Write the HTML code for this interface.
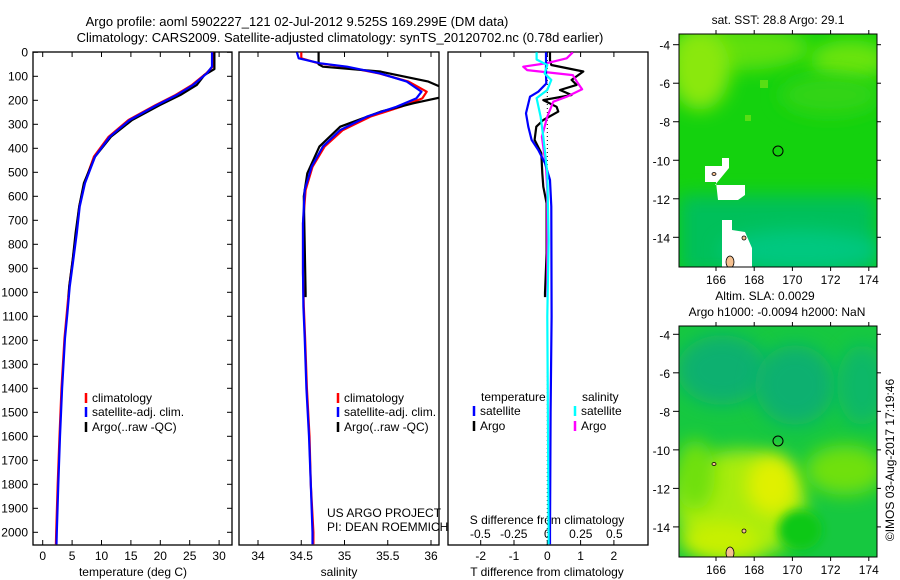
<!DOCTYPE html>
<html><head><meta charset="utf-8"><style>
html,body{margin:0;padding:0;background:#fff;}
svg{display:block;font-family:"Liberation Sans",sans-serif;}
text{font-size:12px;fill:#000;}
</style></head><body>
<svg id="chart" width="900" height="580" viewBox="0 0 900 580" xmlns="http://www.w3.org/2000/svg">
<defs>
<filter id="blur8" x="-50%" y="-50%" width="200%" height="200%"><feGaussianBlur stdDeviation="9"/></filter>
<filter id="blur4" x="-50%" y="-50%" width="200%" height="200%"><feGaussianBlur stdDeviation="5"/></filter>
<clipPath id="clipTop"><rect x="679" y="34" width="198" height="233"/></clipPath>
<clipPath id="clipBot"><rect x="679" y="326" width="198" height="231"/></clipPath>
<clipPath id="clipP1"><rect x="33" y="52" width="199" height="493"/></clipPath>
<clipPath id="clipP2"><rect x="239" y="52" width="200" height="493"/></clipPath>
<clipPath id="clipP3"><rect x="448" y="52" width="200" height="493"/></clipPath>
</defs>
<text x="297" y="26" text-anchor="middle" style="font-size:13px">Argo profile: aoml 5902227_121 02-Jul-2012 9.525S 169.299E (DM data)</text>
<text x="340" y="42" text-anchor="middle" style="font-size:13px">Climatology: CARS2009. Satellite-adjusted climatology: synTS_20120702.nc (0.78d earlier)</text>

<g>
<text x="778" y="24" text-anchor="middle">sat. SST: 28.8 Argo: 29.1</text>
<g clip-path="url(#clipTop)">
<rect x="679" y="34" width="198" height="233" fill="#14d20e"/>
<ellipse cx="740" cy="48" rx="70" ry="22" fill="#5ee010" filter="url(#blur8)"/>
<ellipse cx="700" cy="70" rx="30" ry="40" fill="#8ae80a" filter="url(#blur8)"/>
<ellipse cx="850" cy="60" rx="40" ry="20" fill="#6ae410" filter="url(#blur8)"/>
<ellipse cx="830" cy="95" rx="50" ry="20" fill="#30d418" filter="url(#blur8)"/>
<rect x="679" y="195" width="198" height="80" fill="#06c05a" filter="url(#blur8)"/>
<ellipse cx="800" cy="250" rx="80" ry="20" fill="#04c880" filter="url(#blur8)"/>
<rect x="760" y="80" width="8" height="8" fill="#58de14"/>
<rect x="745" y="115" width="6" height="6" fill="#58de14"/>
<polygon points="705,166 722,166 722,158 729,158 729,168 715,185 745,185 745,195 738,200 718,200 716,182 705,182" fill="#fff"/>
<polygon points="722,220 732,220 732,230 745,232 752,248 752,267 722,267 722,250" fill="#fff"/>
<ellipse cx="730" cy="262" rx="4" ry="6" fill="#f5c090" stroke="#000" stroke-width="0.8"/>
<ellipse cx="744" cy="238" rx="2" ry="2" fill="#f5c090" stroke="#000" stroke-width="0.8"/>
<ellipse cx="714" cy="174" rx="2" ry="1.5" fill="#f5c090" stroke="#000" stroke-width="0.8"/>
</g>
<rect x="679" y="34" width="198" height="233" fill="none" stroke="#000"/>
<circle cx="778" cy="151" r="5" fill="none" stroke="#000"/>
</g>

<g>
<text x="765" y="300" text-anchor="middle">Altim. SLA: 0.0029</text>
<text x="777" y="316" text-anchor="middle">Argo h1000: -0.0094 h2000: NaN</text>
<g clip-path="url(#clipBot)">
<rect x="679" y="326" width="198" height="231" fill="#16c840"/>
<ellipse cx="722" cy="370" rx="45" ry="35" fill="#08b070" filter="url(#blur8)"/>
<ellipse cx="795" cy="385" rx="40" ry="40" fill="#08b070" filter="url(#blur8)"/>
<ellipse cx="862" cy="385" rx="25" ry="40" fill="#10b868" filter="url(#blur8)"/>
<ellipse cx="740" cy="505" rx="65" ry="55" fill="#a8ec08" filter="url(#blur8)"/>
<ellipse cx="695" cy="475" rx="20" ry="35" fill="#70e010" filter="url(#blur8)"/>
<ellipse cx="772" cy="485" rx="25" ry="30" fill="#e0f000" filter="url(#blur8)"/>
<ellipse cx="720" cy="540" rx="40" ry="18" fill="#c8f000" filter="url(#blur8)"/>
<ellipse cx="845" cy="470" rx="40" ry="25" fill="#70e010" filter="url(#blur8)"/>
<ellipse cx="800" cy="530" rx="22" ry="20" fill="#10c818" filter="url(#blur4)"/>
<ellipse cx="730" cy="553" rx="4" ry="6" fill="#f5c090" stroke="#000" stroke-width="0.8"/>
<ellipse cx="744" cy="531" rx="2" ry="2" fill="#f5c090" stroke="#000" stroke-width="0.8"/>
<ellipse cx="714" cy="464" rx="2" ry="1.5" fill="#f5c090" stroke="#000" stroke-width="0.8"/>
</g>
<rect x="679" y="326" width="198" height="231" fill="none" stroke="#000"/>
<circle cx="778" cy="441" r="5" fill="none" stroke="#000"/>
</g>
<text transform="translate(894,460) rotate(-90)" text-anchor="middle">©IMOS 03-Aug-2017 17:19:46</text>
<g id="plots"></g>
</svg>
<script>
const depthTicks = [0,100,200,300,400,500,600,700,800,900,1000,1100,1200,1300,1400,1500,1600,1700,1800,1900,2000];
const tempTicks = [0,5,10,15,20,25,30];
const salTicks = [34,34.5,35,35.5,36];
const salTickLabels = ["34","34.5","35","35.5","36"];
const tdiffTicks = [-2,-1,0,1,2];
const sdiffTicks = [-0.5,-0.25,0,0.25,0.5];
const sdiffTickLabels = ["-0.5","-0.25","0","0.25","0.5"];

const tDepth = [0,60,88,136,178,220,282,352,435,545,643,753,865,977,1087,1191,1400,1600,1800,2000,2050];
const tSat = [28.8,28.8,27.9,25.6,22.8,19.4,14.8,11.4,8.9,7.2,6.3,5.8,5.2,4.6,4.2,3.8,3.3,2.95,2.65,2.4,2.35];
const tClim = [28.9,28.9,27.8,25.4,22.6,19.2,14.6,11.2,8.7,7.1,6.2,5.7,5.1,4.5,4.1,3.7,3.2,2.85,2.55,2.3,2.25];
const tArgoDepth = [0,70,95,136,178,220,282,352,435,545,643,753,865,977,1020];
const tArgo = [29.2,29.2,27.5,26.2,23.4,19.9,15.2,11.6,8.9,7.0,6.2,5.6,5.1,4.5,4.4];

const sDepth = [0,25,46,60,88,122,164,192,227,268,324,393,477,574,712,920,1060,1190,1400,1600,1800,2000,2050];
const sSat = [34.45,34.47,34.72,35.03,35.41,35.72,35.89,35.83,35.6,35.26,34.95,34.75,34.62,34.54,34.52,34.52,34.525,34.54,34.56,34.59,34.61,34.63,34.63];
const sClim = [34.5,34.5,34.7,35.0,35.4,35.74,35.95,35.9,35.65,35.3,34.98,34.77,34.63,34.55,34.52,34.52,34.53,34.545,34.565,34.595,34.61,34.64,34.64];
const sArgoDepth = [0,50,60,80,122,150,185,212,247,310,393,504,600,1003,1020];
const sArgo = [34.70,34.70,34.75,35.41,35.97,36.15,36.15,35.8,35.42,34.95,34.71,34.57,34.53,34.55,34.55];

const dtSatDepth = [0,88,130,164,185,254,310,365,407,462,532,643,1101,1500,2000,2050];
const dtSat = [-0.04,-0.04,-0.03,-0.27,-0.52,-0.64,-0.57,-0.47,-0.27,-0.07,0.08,0.12,0.13,0.1,0.08,0.08];
const dtArgoDepth = [0,32,53,80,115,136,157,178,199,227,247,282,310,365,420,504,560,629,837,1003,1020];
const dtArgo = [0.08,0.08,0.12,1.08,0.73,0.88,0.38,0.73,-0.12,0.28,0.33,-0.12,-0.33,-0.38,-0.18,-0.15,-0.12,-0.02,-0.02,-0.07,-0.07];
const dsArgoDepth = [0,25,45,60,74,95,122,154,185,206,268,352,477,574,1020];
const dsArgo = [0.19,0.145,0,-0.18,-0.15,0.19,0.22,0.26,0.145,0.045,0,-0.04,-0.01,0,0];
const dsSatDepth = [0,30,53,88,115,157,191,268,352,504,782,1101,2000,2050];
const dsSat = [-0.08,-0.08,0,-0.02,0.03,0,-0.08,-0.05,-0.03,0,0.01,0,0.01,0.01];

const NS = "http://www.w3.org/2000/svg";
const yD = d => 52.3 + d * 0.24;
const xT = t => 42.7 + t * 5.88;
const xS = s => 258 + (s - 34) * 86.5;
const xDT = v => 547.3 + v * 33.3;
const xDS = v => 547.3 + v * 134;
const root = document.getElementById('plots');
function mk(tag, attrs, parent){
  const e = document.createElementNS(NS, tag);
  for (const k in attrs) e.setAttribute(k, attrs[k]);
  (parent || root).appendChild(e);
  return e;
}
function txt(x, y, s, anchor, parent){
  const t = mk('text', {x: x, y: y, 'text-anchor': anchor || 'start'}, parent);
  t.textContent = s;
  return t;
}
function line(xf, vals, depths, color, clip, name){
  const pts = vals.map((v, i) => xf(v).toFixed(1) + ',' + yD(depths[i]).toFixed(1)).join(' ');
  const p = mk('polyline', {points: pts, fill: 'none', stroke: color, 'stroke-width': 2.2, 'stroke-linejoin': 'round', 'clip-path': 'url(#' + clip + ')'});
  
  
}
function panel(x0, x1, name){
  const r = mk('rect', {x: x0, y: 52, width: x1 - x0, height: 493, fill: 'none', stroke: '#000', 'stroke-width': 1.3});
  
  
}
function xticks(xf, ticks, labels){
  ticks.forEach((t, i) => {
    const x = xf(t);
    mk('line', {x1: x, x2: x, y1: 52, y2: 57, stroke: '#000'});
    mk('line', {x1: x, x2: x, y1: 545, y2: 540, stroke: '#000'});
    const lb = txt(x, 560, labels[i], 'middle');
    
    
  });
}
function legendEntry(x, y, color, label){
  mk('line', {x1: x, x2: x, y1: y - 9, y2: y + 1, stroke: color, 'stroke-width': 2.5});
  const t = txt(x + 6, y, label);
  
  
}

panel(33, 232, 'temperature-panel');
depthTicks.forEach(d => {
  const y = yD(d);
  mk('line', {x1: 33, x2: 38, y1: y, y2: y, stroke: '#000'});
  mk('line', {x1: 232, x2: 227, y1: y, y2: y, stroke: '#000'});
  const t = txt(28, y + 4, String(d), 'end');
  
  
});
xticks(xT, tempTicks, tempTicks.map(String));
const xl1 = txt(133, 576, 'temperature (deg C)', 'middle');


line(xT, tClim, tDepth, '#f00', 'clipP1', 'temp-climatology-line');
line(xT, tArgo, tArgoDepth, '#000', 'clipP1', 'temp-argo-line');
line(xT, tSat, tDepth, '#00f', 'clipP1', 'temp-satellite-line');
legendEntry(86, 402, '#f00', 'climatology');
legendEntry(86, 416, '#00f', 'satellite-adj. clim.');
legendEntry(86, 431, '#000', 'Argo(..raw -QC)');

panel(239, 439, 'salinity-panel');
xticks(xS, salTicks, salTickLabels);
const xl2 = txt(339, 576, 'salinity', 'middle');


line(xS, sClim, sDepth, '#f00', 'clipP2', 'sal-climatology-line');
line(xS, sArgo, sArgoDepth, '#000', 'clipP2', 'sal-argo-line');
line(xS, sSat, sDepth, '#00f', 'clipP2', 'sal-satellite-line');
legendEntry(338, 402, '#f00', 'climatology');
legendEntry(338, 416, '#00f', 'satellite-adj. clim.');
legendEntry(338, 431, '#000', 'Argo(..raw -QC)');
const us = txt(327, 517, 'US ARGO PROJECT');


const pi = txt(327, 531, 'PI: DEAN ROEMMICH');



panel(448, 648, 'difference-panel');
xticks(xDT, tdiffTicks, tdiffTicks.map(String));
mk('line', {x1: xDT(0), x2: xDT(0), y1: 52, y2: 545, stroke: '#000', 'stroke-dasharray': '1,3'});
const xl3 = txt(547, 576, 'T difference from climatology', 'middle');


const sl = txt(547, 524, 'S difference from climatology', 'middle');


sdiffTicks.forEach((v, i) => {
  const t = txt(xDS(v), 538, sdiffTickLabels[i], 'middle');
  
  
});
line(xDT, dtArgo, dtArgoDepth, '#000', 'clipP3', 'tdiff-argo-line');
line(xDS, dsArgo, dsArgoDepth, '#f0f', 'clipP3', 'sdiff-argo-line');
line(xDT, dtSat, dtSatDepth, '#00f', 'clipP3', 'tdiff-satellite-line');
line(xDS, dsSat, dsSatDepth, '#0ff', 'clipP3', 'sdiff-satellite-line');
const lt = txt(481, 401, 'temperature');


const ls = txt(582, 401, 'salinity');


legendEntry(474, 415, '#00f', 'satellite');
legendEntry(474, 430, '#000', 'Argo');
legendEntry(575, 415, '#0ff', 'satellite');
legendEntry(575, 430, '#f0f', 'Argo');

function mapAxes(top, bottom, lat4y, name){
  const lonX = lon => 716 + (lon - 166) * 19.1;
  const latY = lat => lat4y + (-4 - lat) * 19.26;
  [166,168,170,172,174].forEach(lon => {
    const x = lonX(lon);
    mk('line', {x1: x, x2: x, y1: top, y2: top - 4, stroke: '#000'});
    mk('line', {x1: x, x2: x, y1: bottom, y2: bottom + 4, stroke: '#000'});
    const t = txt(x, bottom + 17, String(lon), 'middle');
    
    
  });
  [-4,-6,-8,-10,-12,-14].forEach(lat => {
    const y = latY(lat);
    mk('line', {x1: 679, x2: 673, y1: y, y2: y, stroke: '#000'});
    mk('line', {x1: 877, x2: 881, y1: y, y2: y, stroke: '#000'});
    const t = txt(670, y + 5, String(lat), 'end');
    
    
  });
}
mapAxes(34, 267, 44.7, 'sst-map');
mapAxes(326, 557, 334.3, 'sla-map');
</script>
</body></html>
